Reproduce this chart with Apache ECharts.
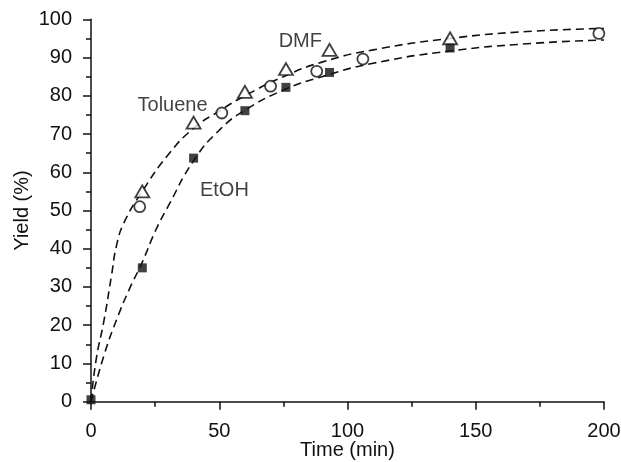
<!DOCTYPE html>
<html><head><meta charset="utf-8">
<script src="https://cdn.jsdelivr.net/npm/echarts@6/dist/echarts.min.js"></script>
<style>html,body{margin:0;padding:0;background:#fff}#c{width:621px;height:462px}</style>
</head><body><div id="c"></div>
<script>
// Measured points
const dmfTime = [20, 40, 60, 76, 93, 140];
const dmfYield = [55, 73, 81, 87, 92, 95];
const tolTime = [19, 51, 70, 88, 106, 198];
const tolYield = [51, 75.5, 82.5, 86.4, 89.6, 96.3];
const etohTime = [0, 20, 40, 60, 76, 93, 140];
const etohYield = [0.5, 35, 63.7, 76.1, 82.2, 86.1, 92.5];
// Fitted (dashed) curves
const fitUpperTime = [0, 2, 5, 8, 10, 13, 20, 30, 40, 50, 60, 75, 90, 110, 140, 170, 200];
const fitUpperYield = [0, 11, 21, 33, 41, 47, 55, 64.5, 71.5, 76, 80, 85, 88.8, 92, 95, 96.8, 97.6];
const fitLowerTime = [0, 5, 10, 15, 20, 25, 30, 40, 50, 60, 75, 90, 110, 140, 170, 200];
const fitLowerYield = [0, 12, 21.5, 29.5, 36.5, 44.5, 51, 63, 71, 76.2, 81.5, 85, 88.5, 91.7, 93.6, 94.6];
// Annotations (label text and anchor in data units)
const noteText = ['DMF', 'Toluene', 'EtOH'];
const noteTime = [81.6, 31.8, 52];
const noteYield = [94.2, 77.4, 55.2];
const xTicks = [0, 50, 100, 150, 200];
const yTicks = [0, 10, 20, 30, 40, 50, 60, 70, 80, 90, 100];

const zip = (a, b) => a.map((v, i) => [v, b[i]]);
const ink = '#111';
const font = 'Liberation Sans, Arial, sans-serif';
const fs = 20;

const chart = echarts.init(document.getElementById('c'));
chart.setOption({
  animation: false,
  backgroundColor: '#fff',
  grid: {left: 91, right: 17, top: 19.3, bottom: 60.3, containLabel: false, outerBoundsMode: 'none'},
  xAxis: {
    type: 'value', min: xTicks[0], max: xTicks[xTicks.length - 1], interval: 50,
    name: 'Time (min)', nameLocation: 'middle', nameGap: 39, nameMoveOverlap: false,
    nameTextStyle: {fontFamily: font, fontSize: fs, color: ink},
    axisLine: {show: true, lineStyle: {color: ink, width: 1.5}},
    axisTick: {show: true, inside: false, length: 8, lineStyle: {color: ink, width: 1.5}},
    minorTick: {show: true, splitNumber: 2, length: 5, lineStyle: {color: ink, width: 1.5}},
    axisLabel: {fontFamily: font, fontSize: fs, color: ink, margin: 20},
    splitLine: {show: false}
  },
  yAxis: {
    type: 'value', min: yTicks[0], max: yTicks[yTicks.length - 1], interval: 10,
    name: 'Yield (%)', nameLocation: 'middle', nameGap: 59, nameRotate: 90, nameMoveOverlap: false,
    nameTextStyle: {fontFamily: font, fontSize: fs, color: ink},
    axisLine: {show: true, lineStyle: {color: ink, width: 1.5}},
    axisTick: {show: true, inside: false, length: 8, lineStyle: {color: ink, width: 1.5}},
    minorTick: {show: true, splitNumber: 2, length: 5, lineStyle: {color: ink, width: 1.5}},
    axisLabel: {fontFamily: font, fontSize: fs, color: ink, margin: 19},
    splitLine: {show: false}
  },
  series: [
    {type: 'line', data: zip(fitUpperTime, fitUpperYield), showSymbol: false, smooth: 0.5,
      lineStyle: {color: ink, width: 1.6, type: [8, 5]}, z: 2},
    {type: 'line', data: zip(fitLowerTime, fitLowerYield), showSymbol: false, smooth: 0.5,
      lineStyle: {color: ink, width: 1.6, type: [8, 5]}, z: 2},
    {type: 'scatter', name: 'DMF', data: zip(dmfTime, dmfYield), symbol: 'triangle', symbolSize: [14, 12],
      itemStyle: {color: '#fff', borderColor: ink, borderWidth: 1.8}, z: 3},
    {type: 'scatter', name: 'Toluene', data: zip(tolTime, tolYield), symbol: 'circle', symbolSize: 11,
      itemStyle: {color: '#fff', borderColor: ink, borderWidth: 1.8}, z: 3},
    {type: 'scatter', name: 'EtOH', data: zip(etohTime, etohYield), symbol: 'rect', symbolSize: 9,
      itemStyle: {color: ink}, z: 4},
    {type: 'scatter', data: noteText.map((t, i) => ({value: [noteTime[i], noteYield[i]], name: t})),
      symbolSize: 0, silent: true,
      label: {show: true, position: 'inside', formatter: '{b}', fontFamily: font, fontSize: fs, color: ink}, z: 5}
  ]
});
</script></body></html>
